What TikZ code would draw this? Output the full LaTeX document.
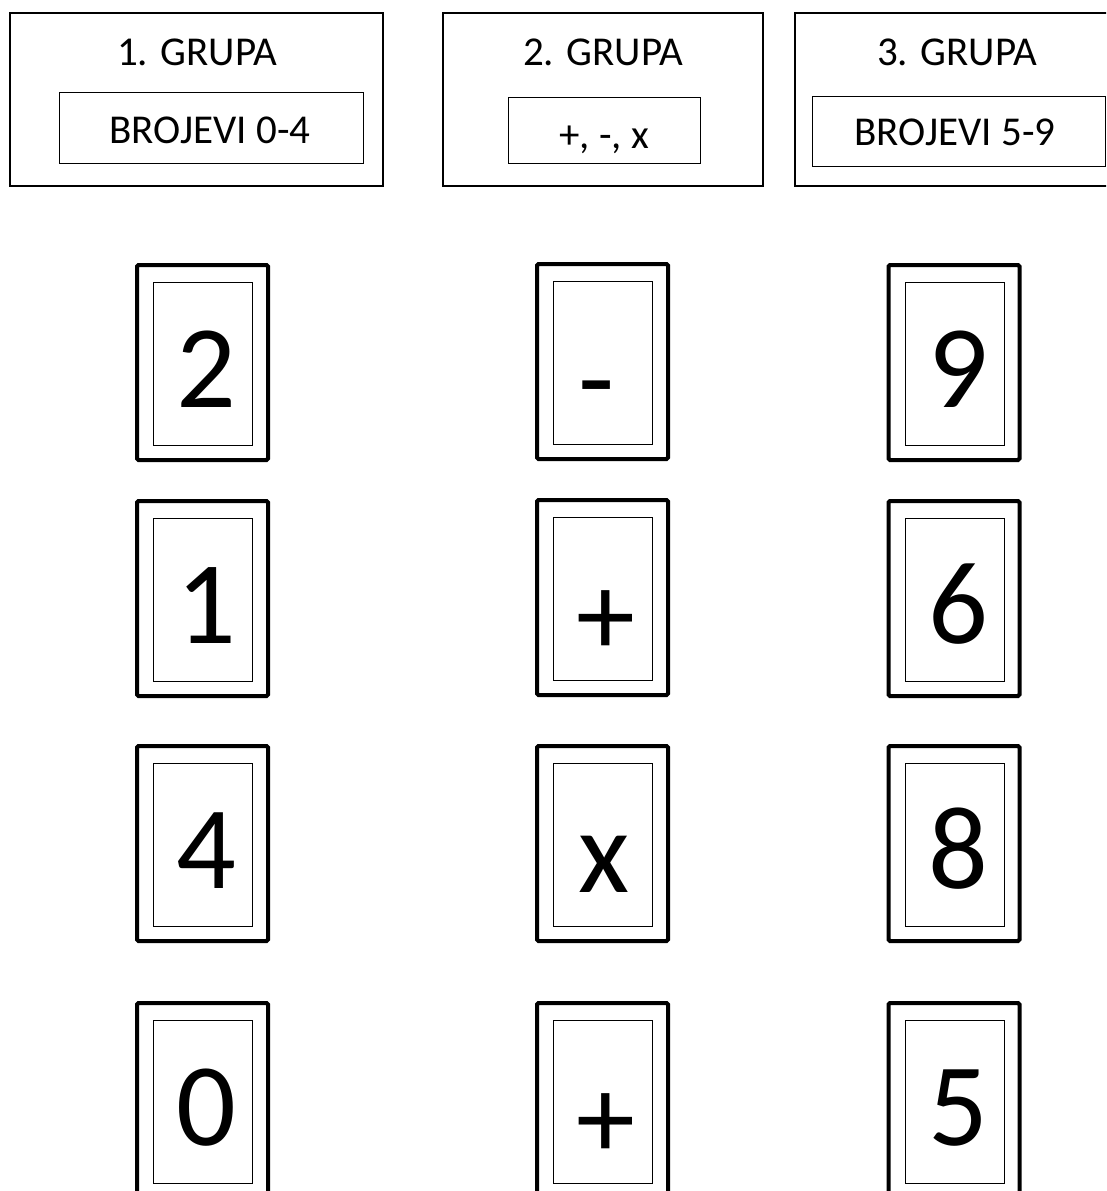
\documentclass[tikz,border=0pt]{standalone}
\usepackage{fontspec}
\setmainfont{Carlito}
\usetikzlibrary{positioning}
\definecolor{ink}{RGB}{0,0,0}
\newcommand{\comma}{,}

\begin{document}
\begin{tikzpicture}[x=1pt,y=-1pt,
    groupframe/.style={draw=ink,line width=1.2pt},
    rangeframe/.style={draw=ink,line width=0.9pt},
    cardframe/.style={draw=ink,line width=4pt,rounded corners=1.5pt},
    cardline/.style={draw=ink,line width=0.9pt},
    grouptext/.style={font=\fontsize{41}{41}\selectfont,anchor=base,inner sep=0pt},
    cardtext/.style={font=\fontsize{118}{118}\selectfont,anchor=base,inner sep=0pt}]
    \useasboundingbox (0,0) rectangle (1106,1191);
    \clip (0,0) rectangle (1106,1191);
    % group headers
    \foreach \n/\l/\r/\il/\ir/\it/\ib/\tx/\bx/\by/\t/\b in {
      1/10/383/59/363/92/163/197/210/143/1. GRUPA/BROJEVI 0-4,
      2/443/763/508/700/97/163/603/604/148/2. GRUPA/+\comma{} -\comma{} x,
      3/795/1120/812/1105/96/166/957/955/145/3. GRUPA/BROJEVI 5-9}
    {
      \draw[groupframe] (\l,13) rectangle (\r,186);
      \draw[rangeframe] (\il,\it) rectangle (\ir,\ib);
      \node[grouptext] (grp\n) at (\tx,65) {\t};
      \node[grouptext] (rng\n) at (\bx,\by) {\b};
    }
    % cards
    \foreach \cx/\ty/\s/\dx/\dy [count=\i] in {
      202.5/265/2/4/0, 202.5/501/1/4/0, 202.5/746/4/4/0, 202.5/1003/0/4/0,
      602.5/264/-/-6/12, 602.5/500/+/3/13, 602.5/746/x/2/4, 602.5/1003/+/3/13,
      954/265/9/4/0, 954/501/6/4/0, 954/746/8/4/0, 954/1003/5/4/0}
    {
      \draw[cardframe] (\cx-65.5,\ty) rectangle (\cx+65.5,\ty+195);
      \draw[cardline] (\cx-49,\ty+17) rectangle (\cx+50,\ty+180);
      \node[cardtext] (card\i) at (\cx+\dx,\ty+142+\dy) {\s};
    }
  \end{tikzpicture}
\end{document}
